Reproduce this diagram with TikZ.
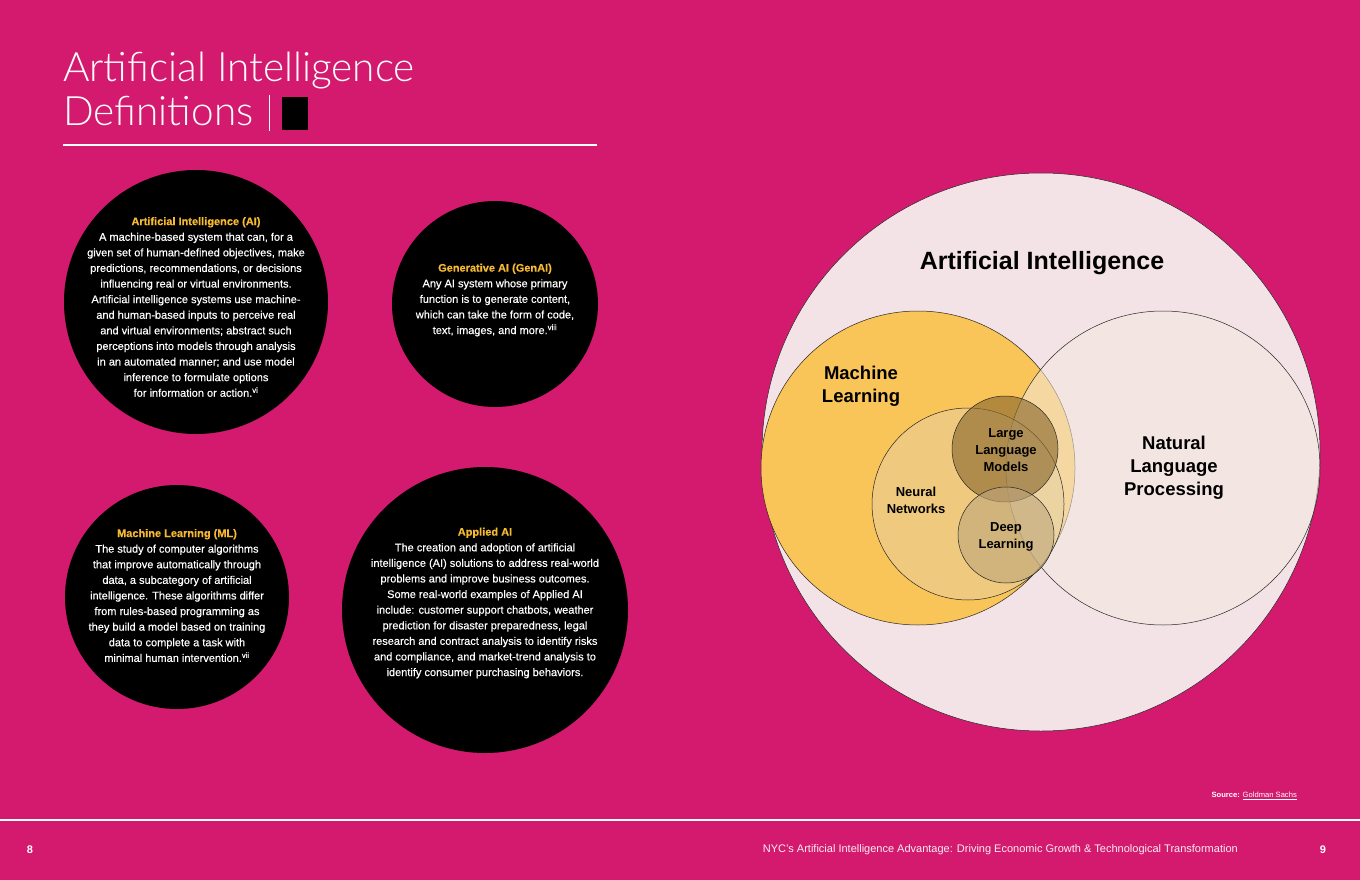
\documentclass[tikz,border=0pt]{standalone}
\usepackage{fontspec}
\setmainfont{Liberation Sans}
\newfontfamily\thinfont{Lato Light}
\newfontfamily\blurbfont{Liberation Sans}[RawFeature={embolden=0.4}]
\usepackage{tikz}

\definecolor{pagepink}{HTML}{D41A6E}
\definecolor{headgold}{HTML}{F6B932}
\definecolor{aipink}{HTML}{F3E2E6}
\definecolor{mlgold}{HTML}{F9C458}
\definecolor{nlpbeige}{HTML}{F3E9DE}
\definecolor{nnsand}{HTML}{E4CFA4}
\definecolor{llmbrown}{HTML}{8E6C30}
\definecolor{dltan}{HTML}{BFA67C}

\begin{document}
\begin{tikzpicture}[x=1pt,y=-1pt,
  disc/.style={circle,fill=black,inner sep=0pt},
  blurb/.style={align=center,text=white,inner sep=0pt,font=\blurbfont\fontsize{11}{15.6}\selectfont},
  ring/.style={circle,draw=black!85,line width=0.5pt,inner sep=0pt},
  bigtitle/.style={anchor=base west,inner sep=0pt,text=white,font=\thinfont\fontsize{40.5}{44}\selectfont},
  setlabel/.style={align=center,inner sep=0pt,font=\bfseries\fontsize{18.5}{23}\selectfont},
  sublabel/.style={align=center,inner sep=0pt,font=\bfseries\fontsize{13}{17}\selectfont},
  pagenum/.style={text=white,inner sep=0pt,font=\bfseries\fontsize{11}{13}\selectfont}]

\fill[pagepink] (0,0) rectangle (1360,880);
\useasboundingbox (0,0) rectangle (1360,880);

\node[bigtitle] (title) at (63,82) {Artificial Intelligence};
\node[bigtitle] (subtitle) at (63,126) {Definitions};
\draw[white,line width=1pt] (269,95) -- (269,131);
\fill[black] (282,97) rectangle (308,130);
\draw[white,line width=2pt] (63,145) -- (597,145);

% definition discs
\node[disc,minimum size=264pt] (ai) at (196,302) {};
\node[disc,minimum size=206pt] (genai) at (495,304) {};
\node[disc,minimum size=224pt] (ml) at (177,597) {};
\node[disc,minimum size=286pt] (applied) at (485,610) {};

\node[blurb] (aitext) at (ai.center) [yshift=-5pt] {\textcolor{headgold}{\textbf{Artificial Intelligence (AI)}}\\
A machine-based system that can, for a\\
given set of human-defined objectives, make\\
predictions, recommendations, or decisions\\
influencing real or virtual environments.\\
Artificial intelligence systems use machine-\\
and human-based inputs to perceive real\\
and virtual environments; abstract such\\
perceptions into models through analysis\\
in an automated manner; and use model\\
inference to formulate options\\
for information or action.\textsuperscript{vi}};

\node[blurb] (genaitext) at (genai.center) [yshift=4pt] {\textcolor{headgold}{\textbf{Generative AI (GenAI)}}\\
Any AI system whose primary\\
function is to generate content,\\
which can take the form of code,\\
text, images, and more.\textsuperscript{viii}};

\node[blurb] (mltext) at (ml.center) [yshift=1.5pt] {\textcolor{headgold}{\textbf{Machine Learning (ML)}}\\
The study of computer algorithms\\
that improve automatically through\\
data, a subcategory of artificial\\
intelligence. These algorithms differ\\
from rules-based programming as\\
they build a model based on training\\
data to complete a task with\\
minimal human intervention.\textsuperscript{vii}};

\node[blurb] (appliedtext) at (applied.center) [yshift=7pt] {\textcolor{headgold}{\textbf{Applied AI}}\\
The creation and adoption of artificial\\
intelligence (AI) solutions to address real-world\\
problems and improve business outcomes.\\
Some real-world examples of Applied AI\\
include: customer support chatbots, weather\\
prediction for disaster preparedness, legal\\
research and contract analysis to identify risks\\
and compliance, and market-trend analysis to\\
identify consumer purchasing behaviors.};

% venn
\node[ring,fill=aipink,minimum size=558pt] (aiset) at (1041,452) {};
\node[ring,fill=mlgold,minimum size=314pt] (mlset) at (918,468) {};
\node[ring,fill=nlpbeige,fill opacity=0.55,minimum size=314pt] (nlpset) at (1163,468) {};
\node[ring,fill=nnsand,fill opacity=0.5,minimum size=192pt] (nnset) at (968,504) {};
\node[ring,fill=llmbrown,fill opacity=0.65,minimum size=106pt] (llmset) at (1005,449) {};
\node[ring,fill=dltan,fill opacity=0.6,minimum size=96pt] (dlset) at (1006,535) {};

\node[inner sep=0pt,font=\bfseries\fontsize{25}{30}\selectfont] (ailabel) at (1042,263) {Artificial Intelligence};
\node[setlabel] (mllabel) at (861,386) {Machine\\Learning};
\node[setlabel] (nlplabel) at (1174,468) {Natural\\Language\\Processing};
\node[sublabel] (llmlabel) at (1006,450) {Large\\Language\\Models};
\node[sublabel] (nnlabel) at (916,500) {Neural\\Networks};
\node[sublabel] (dllabel) at (1006,537) {Deep\\Learning};

% footer
\node[anchor=east,text=white,inner sep=0pt,font=\fontsize{7.6}{10}\selectfont] (source) at (1297,796) {\textbf{Source:} \underline{Goldman Sachs}};
\draw[white,line width=2pt] (0,820) -- (1360,820);
\node[pagenum] (leftnum) at (30,850) {8};
\node[anchor=east,inner sep=0pt,text=white!92!pagepink,font=\fontsize{11}{13}\selectfont] (runhead) at (1238,850) {NYC’s Artificial Intelligence Advantage: Driving Economic Growth \& Technological Transformation};
\node[pagenum] (rightnum) at (1323,850) {9};
\end{tikzpicture}
\end{document}
